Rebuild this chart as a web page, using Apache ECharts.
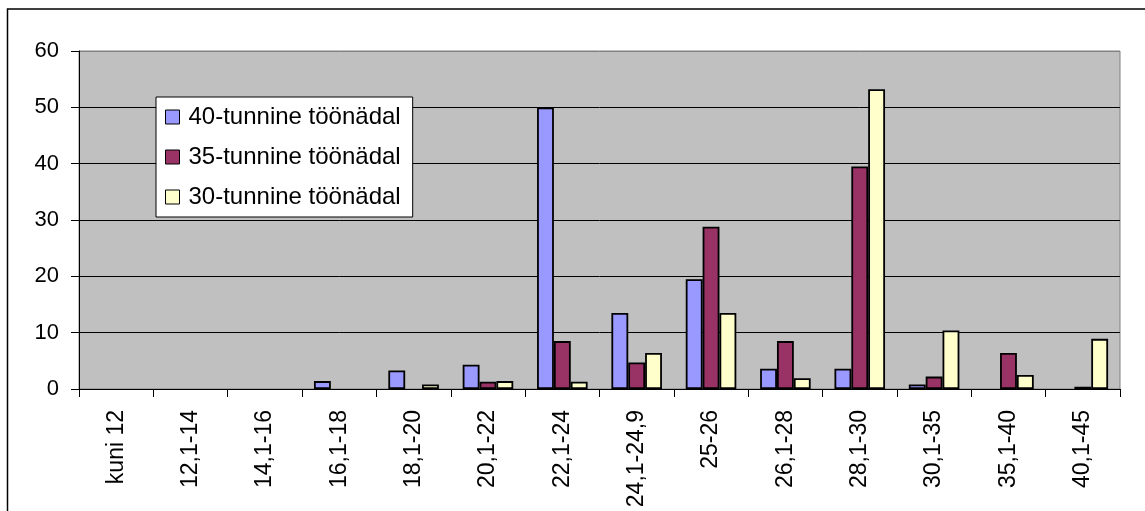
<!DOCTYPE html>
<html>
<head>
<meta charset="utf-8">
<script src="https://cdn.jsdelivr.net/npm/echarts@6/dist/echarts.min.js"></script>
<style>
html,body{margin:0;padding:0;background:#fff;}
#c{width:1145px;height:511px;}
</style>
</head>
<body>
<div id="c"></div>
<script>
const categories = ['kuni 12','12,1-14','14,1-16','16,1-18','18,1-20','20,1-22','22,1-24','24,1-24,9','25-26','26,1-28','28,1-30','30,1-35','35,1-40','40,1-45'];
const seriesNames = ['40-tunnine töönädal','35-tunnine töönädal','30-tunnine töönädal'];
const values40 = [0, 0, 0, 1.4, 3.3, 4.3, 50.0, 13.5, 19.5, 3.6, 3.6, 0.8, 0, 0];
const values35 = [0, 0, 0, 0, 0, 1.3, 8.5, 4.7, 28.8, 8.5, 39.5, 2.2, 6.4, 0.4];
const values30 = [0, 0, 0, 0, 0.8, 1.4, 1.3, 6.4, 13.5, 1.9, 53.2, 10.4, 2.5, 8.9];
const yTicks = {min: 0, max: 60, interval: 10};

const colors = ['#9999FF', '#993366', '#FFFFCC'];
const font = 'Liberation Sans, Arial, sans-serif';
const chart = echarts.init(document.getElementById('c'), null, {renderer: 'canvas'});

// zero values are not drawn as bars in the reference
const prep = arr => arr.map(v => (v === 0 ? '-' : v));

const mk = (name, data, color) => ({
  name: name,
  type: 'bar',
  data: prep(data),
  barGap: '0%',
  barCategoryGap: '32%',
  itemStyle: {color: color, borderColor: '#000', borderWidth: 1.8},
  emphasis: {disabled: true},
  animation: false
});

chart.setOption({
  animation: false,
  textStyle: {fontFamily: font},
  graphic: [{
    type: 'rect',
    shape: {x: 7.5, y: 9, width: 1300, height: 700},
    style: {fill: 'none', stroke: '#000', lineWidth: 1.5},
    silent: true
  }],
  grid: {
    left: 79, top: 51, right: 25, bottom: 122,
    show: true, backgroundColor: '#C0C0C0', borderColor: '#808080', borderWidth: 1,
    containLabel: false
  },
  legend: {
    orient: 'vertical',
    left: 156, top: 97,
    data: seriesNames,
    backgroundColor: '#fff',
    borderColor: '#000', borderWidth: 1,
    padding: [8, 12, 8, 9],
    itemWidth: 14, itemHeight: 14,
    itemGap: 16,
    icon: 'rect',
    itemStyle: {borderColor: '#000', borderWidth: 1},
    selectedMode: false,
    textStyle: {fontFamily: font, fontSize: 24, color: '#000', lineHeight: 24, padding: [0, 0, 0, 4]}
  },
  xAxis: {
    type: 'category',
    data: categories,
    axisLine: {lineStyle: {color: '#000', width: 1}},
    axisTick: {show: true, length: 8, lineStyle: {color: '#000'}, alignWithLabel: false},
    axisLabel: {rotate: 90, interval: 0, margin: 21, fontSize: 23, color: '#000', fontFamily: font},
    splitLine: {show: false}
  },
  yAxis: {
    type: 'value',
    min: yTicks.min, max: yTicks.max, interval: yTicks.interval,
    axisLine: {show: true, lineStyle: {color: '#000', width: 1}},
    axisTick: {show: true, length: 8, lineStyle: {color: '#000'}},
    axisLabel: {margin: 20, fontSize: 22, color: '#000', fontFamily: font},
    splitLine: {show: true, lineStyle: {color: ['#000','#000','#000','#000','#000','#000','#808080'], width: 1}}
  },
  series: [
    mk(seriesNames[0], values40, colors[0]),
    mk(seriesNames[1], values35, colors[1]),
    mk(seriesNames[2], values30, colors[2])
  ]
});
</script>
</body>
</html>
